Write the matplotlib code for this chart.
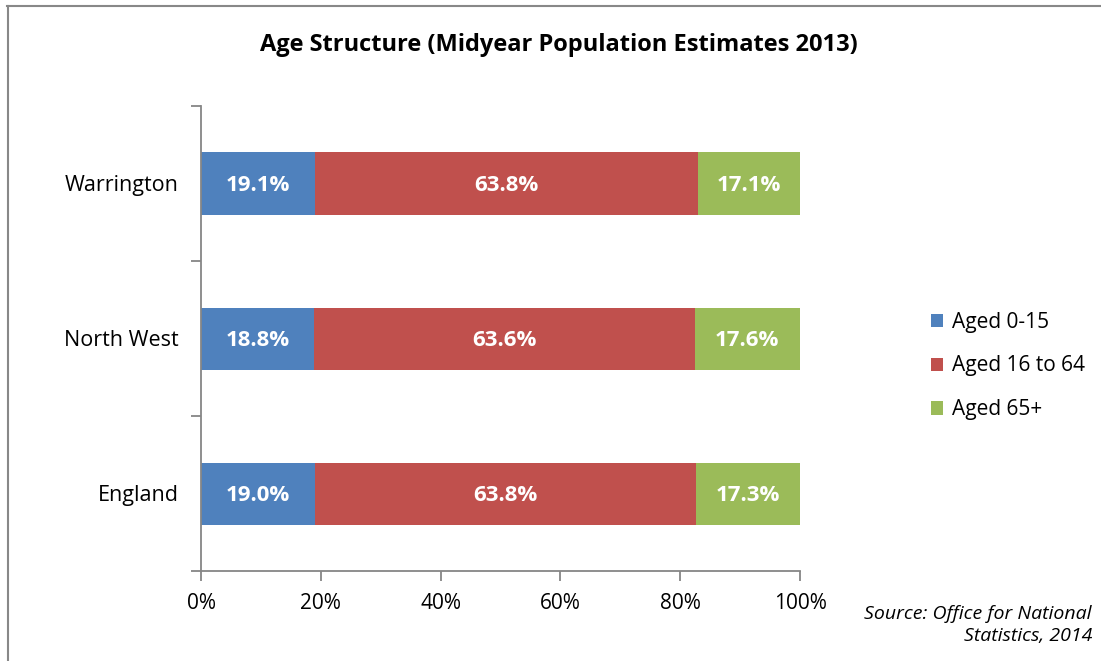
import matplotlib.pyplot as plt
import numpy as np
from matplotlib.lines import Line2D

plt.rcParams['font.family'] = ['Open Sans', 'DejaVu Sans']

areas = ['England', 'North West', 'Warrington']
groups = ['Aged 0-15', 'Aged 16 to 64', 'Aged 65+']
aged_0_15 = [19.0, 18.8, 19.1]
aged_16_64 = [63.8, 63.6, 63.8]
aged_65 = [17.3, 17.6, 17.1]
colors = ['#4F81BD', '#C0504D', '#9BBB59']
x_ticks = [0, 20, 40, 60, 80, 100]

fig = plt.figure(figsize=(11.01, 6.61), dpi=100)
ax = fig.add_axes([201 / 1101, 1 - 571 / 661, 599 / 1101, 465 / 661])

data = np.array([aged_0_15, aged_16_64, aged_65])
shares = data / data.sum(axis=0) * 100
y = np.arange(len(areas))
left = np.zeros(len(areas))
for i, name in enumerate(groups):
    bars = ax.barh(y, shares[i], left=left, height=0.4, color=colors[i], label=name)
    for j, b in enumerate(bars):
        ax.text(b.get_x() + b.get_width() / 2, b.get_y() + b.get_height() / 2 - 0.01,
                '%.1f%%' % data[i][j], ha='center', va='center',
                color='white', fontsize=16, fontweight='bold')
    left += shares[i]

ax.set_xlim(0, 100)
ax.set_ylim(-0.5, len(areas) - 0.5)
ax.set_xticks(x_ticks)
ax.set_xticklabels(['%d%%' % t for t in x_ticks], fontsize=15)
ax.set_yticks(y)
ax.set_yticklabels(areas, fontsize=15.5)
ax.set_yticks(np.arange(-0.5, len(areas), 1), minor=True)
ax.tick_params(axis='y', which='major', length=0, pad=16)
ax.tick_params(axis='y', which='minor', length=7, color='#868686', width=1.3)
ax.tick_params(axis='x', length=7, color='#868686', width=1.3, pad=9)
for s in ['top', 'right']:
    ax.spines[s].set_visible(False)
for s in ['left', 'bottom']:
    ax.spines[s].set_color('#868686')
    ax.spines[s].set_linewidth(1.3)

fig.text(559 / 1101, 1 - 45 / 661, 'Age Structure (Midyear Population Estimates 2013)',
         ha='center', va='center', fontsize=17, fontweight='bold')

ax.legend(loc='center left', bbox_to_anchor=(912 / 1101, 1 - 366 / 661),
          bbox_transform=fig.transFigure, frameon=False, fontsize=15,
          handlelength=0.6, handleheight=0.6, handletextpad=0.4, labelspacing=1.1)

fig.text(1092 / 1101, 1 - 625 / 661, 'Source: Office for National\nStatistics, 2014',
         ha='right', va='center', fontsize=14, style='italic', linespacing=1.25)

fig.add_artist(Line2D([7 / 1101, 1], [1 - 6 / 661, 1 - 6 / 661], color='#888888', lw=1.5,
                      transform=fig.transFigure))
fig.add_artist(Line2D([7.5 / 1101, 7.5 / 1101], [0, 1 - 6 / 661], color='#888888', lw=1.5,
                      transform=fig.transFigure))

plt.savefig('out.png', dpi=100)
